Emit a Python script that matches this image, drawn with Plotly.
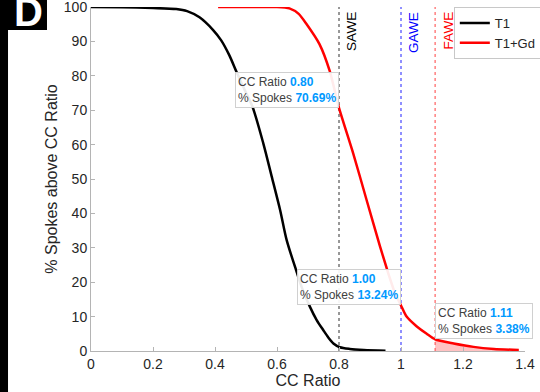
import plotly.graph_objects as go

# ---- data ----
t1_x = [0.0, 0.1, 0.2, 0.275, 0.31, 0.35, 0.394, 0.42, 0.446, 0.47, 0.495, 0.521,
        0.556, 0.583, 0.610, 0.631, 0.658, 0.68, 0.706, 0.728, 0.749, 0.765, 0.782,
        0.803, 0.835, 0.88, 0.95]
t1_y = [100, 99.9, 99.7, 99.4, 98.8, 97.0, 93.3, 90.3, 86.0, 81.0, 76.0, 71.0,
        60.3, 50.7, 41.0, 32.3, 24.5, 18.5, 12.9, 9.0, 6.1, 4.0, 2.2,
        1.1, 0.6, 0.3, 0.1]

gd_x = [0.41, 0.50, 0.60, 0.64, 0.67, 0.694, 0.737, 0.770, 0.80, 0.846, 0.889,
        0.932, 0.96, 0.98, 1.00, 1.018, 1.05, 1.083, 1.11, 1.17, 1.234, 1.30, 1.38]
gd_y = [100, 100, 100, 99.6, 98.0, 95.2, 89.2, 81.4, 70.69, 57.4, 43.9,
        30.5, 22.3, 17.0, 13.24, 10.0, 7.2, 5.0, 3.38, 2.2, 1.2, 0.6, 0.3]

thr_names = ["SAWE", "GAWE", "FAWE"]
thr_x = [0.80, 1.00, 1.11]
thr_colors = ["#303030", "#2020ff", "#ff4040"]
thr_text_colors = ["#000000", "#0000ff", "#ff0000"]

tip_x = [0.80, 1.00, 1.11]
tip_y = [70.69, 13.24, 3.38]
tip_xanchor = ["right", "right", "left"]

x_ticks = [0, 0.2, 0.4, 0.6, 0.8, 1.0, 1.2, 1.4]
x_tick_labels = ["0", "0.2", "0.4", "0.6", "0.8", "1", "1.2", "1.4"]
y_ticks = [0, 10, 20, 30, 40, 50, 60, 70, 80, 90, 100]

FONT = "Liberation Sans, Arial, Helvetica, sans-serif"
TXT = "#262626"
AX = "#b4b4b4"

fig = go.Figure()

# shaded area under T1+Gd beyond FAWE
fx = [x for x in gd_x if x >= thr_x[2]]
fy = [y for x, y in zip(gd_x, gd_y) if x >= thr_x[2]]
fig.add_trace(go.Scatter(x=fx, y=fy, mode="lines", line=dict(width=0),
                         fill="tozeroy", fillcolor="rgba(255,80,80,0.35)",
                         showlegend=False, hoverinfo="skip"))

fig.add_trace(go.Scatter(x=t1_x, y=t1_y, mode="lines", name="T1",
                         line=dict(color="black", width=2.5, shape="spline", smoothing=0.8)))
fig.add_trace(go.Scatter(x=gd_x, y=gd_y, mode="lines", name="T1+Gd",
                         line=dict(color="#ff0000", width=2.5, shape="spline", smoothing=0.6)))

# threshold lines and labels
for name, xv, lc, tc in zip(thr_names, thr_x, thr_colors, thr_text_colors):
    fig.add_shape(type="line", xref="x", yref="y", x0=xv, x1=xv, y0=0, y1=100,
                  line=dict(color=lc, width=1, dash="dot"), layer="below")
    fig.add_annotation(x=xv, y=100, xref="x", yref="y", text=name, showarrow=False,
                       textangle=-90, xanchor="left", yanchor="top", xshift=3, yshift=-3,
                       font=dict(family=FONT, size=13.5, color=tc))

# datatips
for xv, yv, xa in zip(tip_x, tip_y, tip_xanchor):
    txt = ("CC Ratio <b><span style='color:#0099ff'>%.2f</span></b><br>"
           "%% Spokes <b><span style='color:#0099ff'>%.2f%%</span></b>" % (xv, yv))
    fig.add_annotation(x=xv, y=yv, xref="x", yref="y", text=txt, showarrow=False,
                       xanchor=xa, yanchor="bottom", align="left",
                       bgcolor="rgba(255,255,255,0.92)", bordercolor="#d0d0d0",
                       borderwidth=1, borderpad=2,
                       font=dict(family=FONT, size=12, color="#404040"))

# panel label "D" with black frame
fig.add_shape(type="rect", xref="paper", yref="paper", x0=-0.2097, x1=-0.1014,
              y0=0.9331, y1=1.03, fillcolor="black", line=dict(width=0))
fig.add_shape(type="rect", xref="paper", yref="paper", x0=-0.2097, x1=-0.1912,
              y0=-0.13, y1=1.03, fillcolor="black", line=dict(width=0))
fig.add_annotation(xref="paper", yref="paper", x=-0.145, y=0.985, text="<b>D</b>",
                   showarrow=False, xanchor="center", yanchor="middle",
                   font=dict(family=FONT, size=40, color="white"))

fig.update_layout(
    width=540, height=392,
    margin=dict(l=91, r=15, t=7, b=41, autoexpand=False),
    paper_bgcolor="white", plot_bgcolor="white",
    font=dict(family=FONT, size=14, color=TXT),
    showlegend=True,
    legend=dict(x=0.836, y=1.0, xanchor="left", yanchor="top",
                bgcolor="white", bordercolor="#c8c8c8", borderwidth=1,
                font=dict(family=FONT, size=13, color=TXT),
                itemwidth=30, tracegroupgap=0),
)
fig.update_xaxes(range=[0, 1.4], tickvals=x_ticks, ticktext=x_tick_labels,
                 showline=True, linecolor=AX, linewidth=1, ticks="inside",
                 ticklen=4, tickcolor=AX, showgrid=False, zeroline=False,
                 ticklabeloverflow="allow",
                 tickfont=dict(size=14, color=TXT),
                 title=dict(text="CC Ratio", font=dict(size=16, color=TXT), standoff=4))
fig.update_yaxes(range=[0, 100], tickvals=y_ticks,
                 showline=True, linecolor=AX, linewidth=1, ticks="inside",
                 ticklen=4, tickcolor=AX, showgrid=False, zeroline=False,
                 ticklabeloverflow="allow",
                 tickfont=dict(size=14, color=TXT),
                 title=dict(text="% Spokes above CC Ratio", font=dict(size=16, color=TXT), standoff=2))

fig.write_html("out.html", config={"displayModeBar": False},
               post_script="document.body.style.margin='0';")
